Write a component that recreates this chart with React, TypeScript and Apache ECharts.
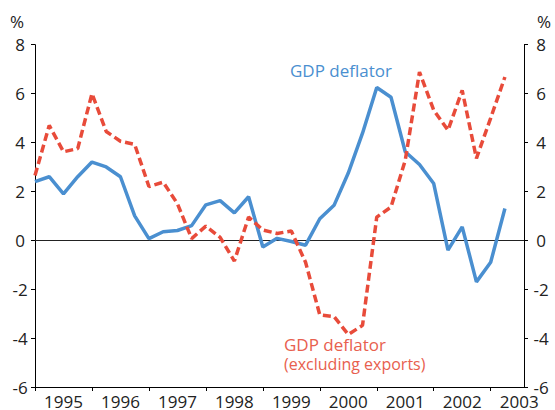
import React, { useEffect, useRef } from "react";
import * as echarts from "echarts";

// Quarterly observations, 1995 Q1 to 2003 Q2
const quarters: string[] = [
  "1995Q1", "1995Q2", "1995Q3", "1995Q4",
  "1996Q1", "1996Q2", "1996Q3", "1996Q4",
  "1997Q1", "1997Q2", "1997Q3", "1997Q4",
  "1998Q1", "1998Q2", "1998Q3", "1998Q4",
  "1999Q1", "1999Q2", "1999Q3", "1999Q4",
  "2000Q1", "2000Q2", "2000Q3", "2000Q4",
  "2001Q1", "2001Q2", "2001Q3", "2001Q4",
  "2002Q1", "2002Q2", "2002Q3", "2002Q4",
  "2003Q1", "2003Q2",
];

const gdpDeflator: number[] = [
  2.4, 2.6, 1.9, 2.6,
  3.2, 3.0, 2.6, 1.0,
  0.07, 0.35, 0.4, 0.6,
  1.45, 1.62, 1.12, 1.78,
  -0.27, 0.08, -0.05, -0.2,
  0.88, 1.43, 2.75, 4.38,
  6.25, 5.85, 3.62, 3.1,
  2.32, -0.4, 0.55, -1.7,
  -0.9, 1.3,
];

const gdpDeflatorExExports: number[] = [
  2.65, 4.7, 3.62, 3.75,
  6.0, 4.45, 4.05, 3.92,
  2.2, 2.38, 1.5, 0.07,
  0.58, 0.12, -0.85, 0.95,
  0.42, 0.28, 0.38, -0.9,
  -3.05, -3.12, -3.85, -3.48,
  0.95, 1.36, 3.27, 6.88,
  5.32, 4.5, 6.13, 3.35,
  5.0, 6.68,
];

const yTicks = { min: -6, max: 8, interval: 2 };
const xStartYear = 1995;
const xEndYear = 2003.585;

const BLUE = "#4a8fd0";
const RED = "#e84b3a";
const FONT = "'Open Sans', 'Noto Sans', sans-serif";

function toX(q: string): number {
  const year = parseInt(q.slice(0, 4), 10);
  const qn = parseInt(q.slice(5), 10);
  return year + (qn - 1) / 4;
}

export default function App() {
  const ref = useRef<HTMLDivElement>(null);

  useEffect(() => {
    if (!ref.current) return;
    document.body.style.margin = "0";
    const chart = echarts.init(ref.current, null, { renderer: "svg" });

    const blueData = quarters.map((q, i) => [toX(q), gdpDeflator[i]]);
    const redData = quarters.map((q, i) => [toX(q), gdpDeflatorExExports[i]]);

    const yAxisCommon = {
      type: "value" as const,
      min: yTicks.min,
      max: yTicks.max,
      interval: yTicks.interval,
      splitLine: { show: false },
      axisLine: { show: true, lineStyle: { color: "#000", width: 1 } },
      axisTick: { show: true, inside: false, length: 4, lineStyle: { color: "#000" } },
    };

    chart.setOption({
      animation: false,
      backgroundColor: "#fff",
      grid: { left: 35, right: 31, top: 44.7, bottom: 23, containLabel: false },
      xAxis: {
        type: "value",
        min: xStartYear,
        max: xEndYear,
        interval: 1,
        splitLine: { show: false },
        axisLine: { show: true, onZero: false, lineStyle: { color: "#000", width: 1 } },
        axisTick: { show: true, inside: false, length: 4, lineStyle: { color: "#000" } },
        axisLabel: {
          show: true,
          margin: 6,
          fontFamily: FONT,
          fontSize: 17,
          color: "#222",
          align: "center",
          padding: [0, 0, 0, 57],
          showMaxLabel: false,
          formatter: (v: number) => (Number.isInteger(v) ? String(v) : ""),
        },
      },
      yAxis: [
        {
          ...yAxisCommon,
          position: "left",
          axisLabel: { margin: 15, align: "center", fontFamily: FONT, fontSize: 17, color: "#222" },
        },
        {
          ...yAxisCommon,
          position: "right",
          axisLabel: { margin: 17, align: "center", fontFamily: FONT, fontSize: 17, color: "#222" },
        },
      ],
      graphic: [
        { type: "text", left: 10, top: 13, style: { text: "%", font: `17px ${FONT}`, fill: "#222" } },
        { type: "text", left: 537, top: 13, style: { text: "%", font: `17px ${FONT}`, fill: "#222" } },
        { type: "text", left: 290, top: 62, style: { text: "GDP deflator", font: `17px ${FONT}`, fill: BLUE } },
        { type: "text", left: 284, top: 336, style: { text: "GDP deflator", font: `17px ${FONT}`, fill: "#e8604e" } },
        { type: "text", left: 284, top: 356, style: { text: "(excluding exports)", font: `16px ${FONT}`, fill: "#e8604e" } },
      ],
      series: [
        {
          type: "line",
          data: redData,
          showSymbol: false,
          yAxisIndex: 0,
          lineStyle: { color: RED, width: 3.5, type: [8, 4] },
          z: 3,
          markLine: {
            silent: true,
            symbol: "none",
            label: { show: false },
            lineStyle: { color: "#222", width: 1, type: "solid" },
            data: [{ yAxis: 0 }],
            z: 1,
          },
        },
        {
          type: "line",
          data: blueData,
          showSymbol: false,
          yAxisIndex: 0,
          lineStyle: { color: BLUE, width: 3.5 },
          z: 2,
        },
      ],
    });

    return () => chart.dispose();
  }, []);

  return <div ref={ref} style={{ width: 555, height: 410, position: "fixed", left: 0, top: 0 }} />;
}
